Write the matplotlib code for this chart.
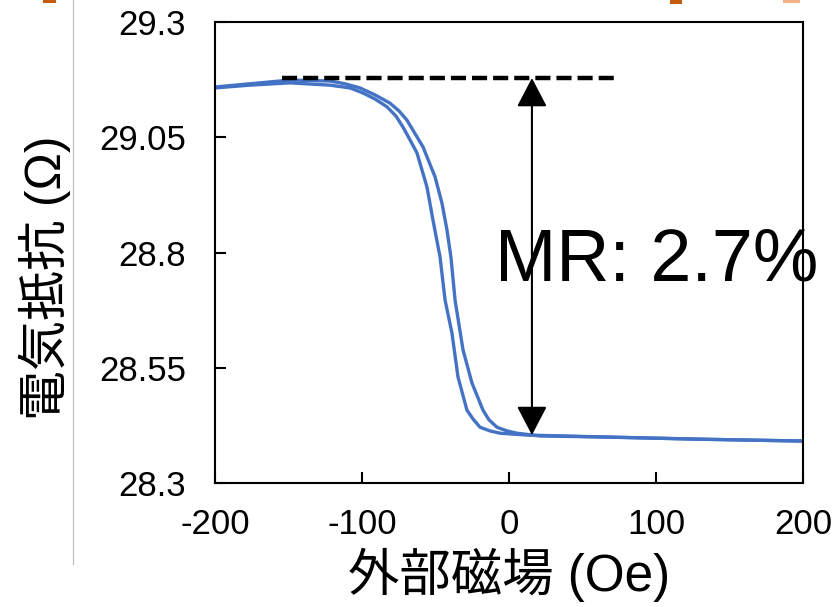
import matplotlib
matplotlib.use('Agg')
import matplotlib.pyplot as plt
from matplotlib.lines import Line2D
from matplotlib.patches import Rectangle

plt.rcParams['font.family'] = ['Liberation Sans', 'Noto Sans CJK JP', 'DejaVu Sans']

# ----------------- DATA -----------------
# branch 1 (switches at the more negative field)
field_1 = [-200, -176.2, -149.0, -121.8, -108.2, -99.3, -91.2, -83.0, -76.9, -72.1,
           -67.3, -62.6, -55.8, -51.7, -46.9, -43.5, -38.8, -34.7, -28.6, -24.5,
           -19.7, -12.9, -6.1, 12.2, 61.9, 129.9, 200]
res_1 = [29.157, 29.163, 29.168, 29.163, 29.157, 29.146, 29.133, 29.116, 29.096, 29.072,
         29.044, 29.016, 28.942, 28.870, 28.790, 28.697, 28.625, 28.530, 28.458, 28.439,
         28.421, 28.413, 28.408, 28.404, 28.400, 28.395, 28.391]

# branch 2 (switches closer to zero)
field_2 = [-200, -176.2, -149.0, -121.8, -111.6, -101.4, -91.2, -81.0, -74.8, -69.4,
           -58.5, -50.3, -45.6, -42.2, -39.5, -36.7, -31.3, -25.2, -17.7, -13.6,
           -8.2, -1.4, 5.4, 21.1, 61.9, 129.9, 200]
res_2 = [29.159, 29.166, 29.174, 29.172, 29.166, 29.157, 29.142, 29.124, 29.107, 29.087,
         29.029, 28.964, 28.907, 28.849, 28.790, 28.697, 28.589, 28.517, 28.458, 28.437,
         28.421, 28.413, 28.408, 28.402, 28.400, 28.395, 28.391]

# MR annotation
r_high = 29.1785
r_low = 28.404
dash_x = [-154.4, 72.1]
arrow_x = 15.6
mr_label = 'MR: 2.7%'
mr_pos = (-9.5, 28.74)

x_ticks = [-200, -100, 0, 100, 200]
y_ticks = [28.3, 28.55, 28.8, 29.05, 29.3]
y_tick_labels = ['28.3', '28.55', '28.8', '29.05', '29.3']

# ----------------- PLOT -----------------
fig = plt.figure(figsize=(8.39, 6.07), dpi=100)
ax = fig.add_axes([215 / 839, 1 - 483 / 607, 588 / 839, 461 / 607])

blue = '#4472C4'
ax.plot(field_1, res_1, color=blue, lw=2.4, solid_capstyle='round', solid_joinstyle='round')
ax.plot(field_2, res_2, color=blue, lw=2.4, solid_capstyle='round', solid_joinstyle='round')

# dashed reference line at the high resistance state
ax.plot(dash_x, [r_high, r_high], color='black', lw=3.2,
        dashes=(3.4, 1.35), dash_capstyle='butt')

# double headed arrow
ax.annotate('', xy=(arrow_x, r_low), xytext=(arrow_x, r_high),
            arrowprops=dict(arrowstyle='<|-|>,head_length=0.9,head_width=0.47',
                            mutation_scale=20, color='black', lw=1.5,
                            shrinkA=0, shrinkB=0))

ax.text(mr_pos[0], mr_pos[1], mr_label, fontsize=53, ha='left', va='baseline',
        clip_on=False, zorder=5)

ax.set_xlim(-200, 200)
ax.set_ylim(28.3, 29.3)
ax.set_xticks(x_ticks)
ax.set_xticklabels([str(t) for t in x_ticks])
ax.set_yticks(y_ticks)
ax.set_yticklabels(y_tick_labels)

ax.tick_params(direction='in', length=8, width=1.5, labelsize=25)
ax.tick_params(axis='x', pad=18)
ax.tick_params(axis='y', pad=21)
for s in ax.spines.values():
    s.set_linewidth(1.5)

ax.set_xlabel('外部磁場 (Oe)', fontsize=37, va='center')
ax.xaxis.set_label_coords(0.5, -0.2)
ax.set_ylabel('電気抵抗 (Ω)', fontsize=36, va='center')
ax.yaxis.set_label_coords(-0.289, 0.445)

# leftovers from the cropped slide
fig.add_artist(Line2D([73 / 839, 73 / 839], [1, 1 - 564 / 607], color='#c0c0c0', lw=0.9))
fig.add_artist(Rectangle((43 / 839, 1 - 3 / 607), 13 / 839, 3 / 607, color='#C55A11', lw=0))
fig.add_artist(Rectangle((670 / 839, 1 - 4 / 607), 12 / 839, 4 / 607, color='#C55A11', lw=0))
fig.add_artist(Rectangle((783 / 839, 1 - 3 / 607), 17 / 839, 3 / 607, color='#F4B183', lw=0))

fig.savefig('out.png', dpi=100)
